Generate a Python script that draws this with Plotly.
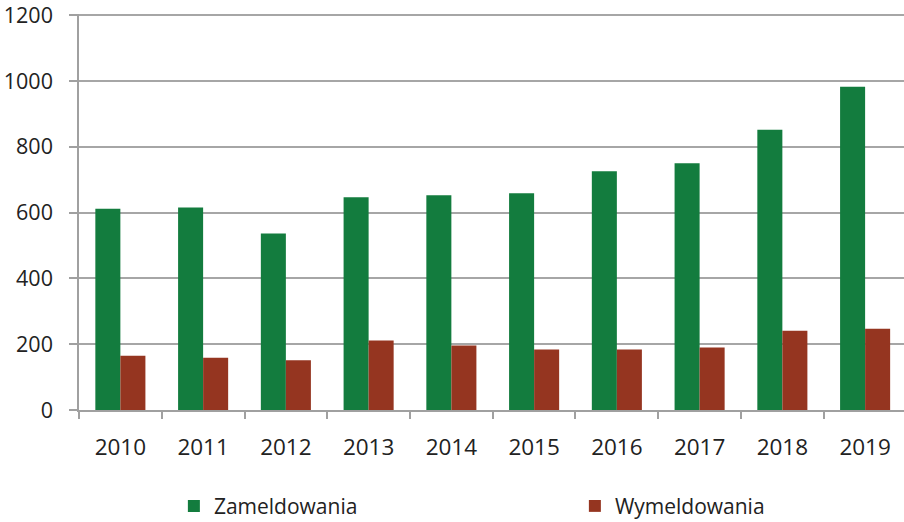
import plotly.graph_objects as go

years = ["2010", "2011", "2012", "2013", "2014", "2015", "2016", "2017", "2018", "2019"]
zameldowania = [612, 616, 537, 647, 653, 659, 726, 750, 852, 983]
wymeldowania = [165, 159, 151, 211, 196, 184, 184, 190, 241, 247]
y_ticks = [0, 200, 400, 600, 800, 1000, 1200]

FONT = "Open Sans"
fig = go.Figure()
fig.add_trace(go.Bar(x=years, y=zameldowania, name="Zameldowania",
                     marker=dict(color="#137C3E", line=dict(width=0))))
fig.add_trace(go.Bar(x=years, y=wymeldowania, name="Wymeldowania",
                     marker=dict(color="#953520", line=dict(width=0))))

fig.update_layout(
    width=904, height=522,
    margin=dict(l=79, r=0, t=14, b=111.5, autoexpand=False),
    paper_bgcolor="white", plot_bgcolor="white",
    barmode="group", bargap=0.395, bargroupgap=0,
    font=dict(family=FONT, size=21, color="#222222"),
    showlegend=True,
    legend=dict(orientation="h", x=0.115, xanchor="left", y=-0.243, yanchor="middle",
                entrywidth=356, entrywidthmode="pixels",
                font=dict(family=FONT, size=21, color="#222222"),
                itemwidth=30, traceorder="normal"),
)
fig.update_xaxes(
    type="category", range=[-0.5, 9.47], automargin=False,
    showline=True, linecolor="#A0A0A0", linewidth=1.5,
    ticks="outside", tickson="boundaries", ticklen=7, tickcolor="#A0A0A0", tickwidth=1.5,
    ticklabelstandoff=16,
    tickfont=dict(family=FONT, size=22.5, color="#222222"),
    showgrid=False,
)
fig.update_yaxes(
    range=[0, 1204], tickvals=y_ticks, ticktext=[str(v) for v in y_ticks],
    automargin=False, ticklabeloverflow="allow",
    showline=True, linecolor="#A0A0A0", linewidth=1.5,
    ticks="outside", ticklen=8, tickcolor="#A0A0A0", tickwidth=1.5,
    ticklabelstandoff=12,
    showgrid=True, gridcolor="#A6A6A6", gridwidth=1.5,
    zeroline=False,
    tickfont=dict(family=FONT, size=21.5, color="#222222"),
)

fig.write_html("out.html",
               config={"displayModeBar": False},
               post_script="document.body.style.margin='0';document.body.style.padding='0';")
